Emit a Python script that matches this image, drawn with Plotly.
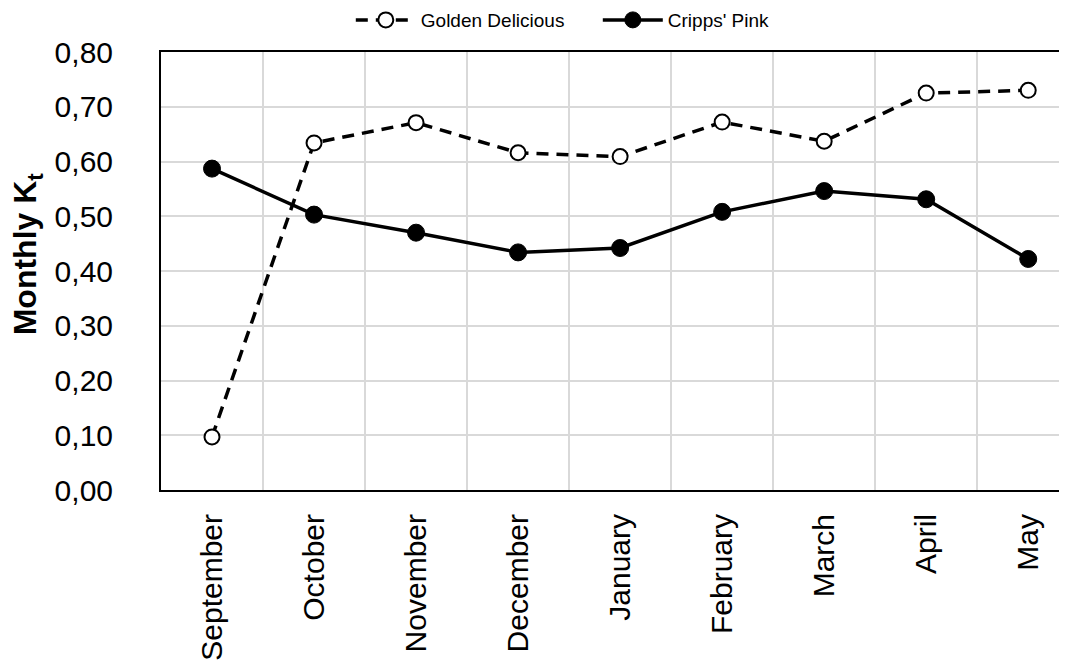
import plotly.graph_objects as go

months = ["September", "October", "November", "December", "January",
          "February", "March", "April", "May"]
golden_delicious = [0.097, 0.634, 0.671, 0.616, 0.609, 0.672, 0.637, 0.725, 0.730]
cripps_pink = [0.587, 0.503, 0.470, 0.434, 0.442, 0.508, 0.546, 0.531, 0.422]
y_ticks = [0.0, 0.1, 0.2, 0.3, 0.4, 0.5, 0.6, 0.7, 0.8]
y_title = "<b>Monthly K<sub>t</sub></b>"

FONT = "Liberation Sans, Arial, sans-serif"

fig = go.Figure()
fig.add_trace(go.Scatter(
    x=months, y=golden_delicious, name="Golden Delicious",
    mode="lines+markers",
    line=dict(color="black", width=3.5, dash="12px,8px"),
    marker=dict(symbol="circle", size=15, color="white",
                line=dict(color="black", width=2)),
))
fig.add_trace(go.Scatter(
    x=months, y=cripps_pink, name="Cripps' Pink",
    mode="lines+markers",
    line=dict(color="black", width=3.5),
    marker=dict(symbol="circle", size=17, color="black",
                line=dict(color="black", width=1)),
))

fig.add_annotation(
    text=y_title, textangle=-90, showarrow=False,
    xref="paper", yref="paper", x=-0.147, y=0.54,
    xanchor="center", yanchor="middle",
    font=dict(size=32, family=FONT, color="black"),
)

fig.update_layout(
    width=1059, height=657,
    paper_bgcolor="white", plot_bgcolor="white",
    separators=", ",
    margin=dict(l=153, r=0, t=44, b=175, autoexpand=False),
    font=dict(family=FONT, color="black"),
    showlegend=True,
    legend=dict(orientation="h", x=0.3237, xanchor="left", xref="container",
                y=1.073, yanchor="middle", yref="paper",
                font=dict(size=19, family=FONT, color="black"),
                itemwidth=60, entrywidth=172, traceorder="normal",
                bgcolor="rgba(0,0,0,0)"),
    xaxis=dict(type="category", categoryorder="array", categoryarray=months,
               range=[-0.5, 8.38], tickson="boundaries",
               showgrid=True, gridcolor="#d9d9d9", gridwidth=1.5,
               showline=True, linecolor="black", linewidth=2, mirror=True,
               ticks="outside", ticklen=20, tickcolor="rgba(0,0,0,0)",
               ticklabelstandoff=10,
               tickangle=-90, tickfont=dict(size=30, family=FONT, color="black"),
               zeroline=False, fixedrange=True),
    yaxis=dict(range=[0, 0.8], tickvals=y_ticks, tickformat=".2f",
               showgrid=True, gridcolor="#d9d9d9", gridwidth=1.5,
               showline=True, linecolor="black", linewidth=2, mirror=False,
               ticks="outside", ticklen=40, tickcolor="rgba(0,0,0,0)",
               tickfont=dict(size=30, family=FONT, color="black"),
               zeroline=False, fixedrange=True),
)

fig.write_html("out.html")
